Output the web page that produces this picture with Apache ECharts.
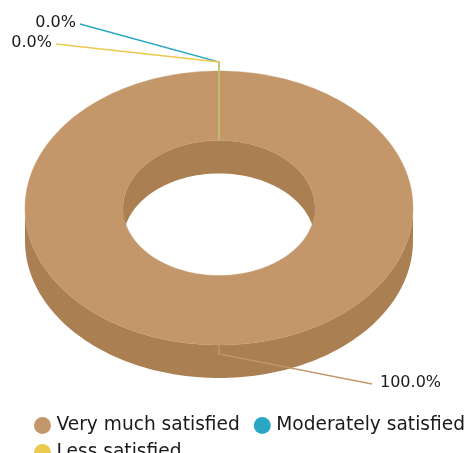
<!DOCTYPE html>
<html>
<head>
<meta charset="utf-8">
<script src="https://cdn.jsdelivr.net/npm/echarts@6/dist/echarts.min.js"></script>
<style>
html,body{margin:0;padding:0;background:#fff;}
#chart{width:471px;height:453px;}
</style>
</head>
<body>
<div id="chart"></div>
<script>
// ---- data ----
const categories = ['Very much satisfied', 'Moderately satisfied', 'Less satisfied'];
const values = [100, 0, 0];

// ---- styles / layout (kept separate from data) ----
const palette = ['#C39769', '#2AA7C4', '#EBCB4F'];
const sidePalette = ['#AA7F51', '#1E8BA5', '#CDAE37'];
const labelOffsets = [[153, 30], [-139, -38], [-163, -18]];
const G = { cx: 219, cy: 208, rx: 194, ry: 137, irx: 96, iry: 67.5, depth: 33 };
const FONT = 'DejaVu Sans';

const total = values.reduce((s, v) => s + v, 0);
const starts = [];
{ let acc = 0; values.forEach(v => { starts.push(acc); acc += v; }); }

const TAU = Math.PI * 2;
function pt(rx, ry, th, dy) {
  return [G.cx + rx * Math.sin(th), G.cy - ry * Math.cos(th) + (dy || 0)];
}
function arc(rx, ry, a, b, dy) {
  const n = Math.max(2, Math.ceil(Math.abs(b - a) / TAU * 240));
  const pts = [];
  for (let i = 0; i <= n; i++) pts.push(pt(rx, ry, a + (b - a) * i / n, dy));
  return pts;
}
function clip(a, b, lo, hi) {
  const res = [];
  for (const k of [-1, 0, 1]) {
    const l = Math.max(a, lo + k * TAU), h = Math.min(b, hi + k * TAU);
    if (h > l) res.push([l, h]);
  }
  return res;
}

function makeRender(i) {
  return function (params, api) {
    const v = api.value(0);
    const a = starts[i] / total * TAU;
    const b = (starts[i] + v) / total * TAU;
    const children = [];
    // inner (back) walls
    clip(a, b, -Math.PI / 2, Math.PI / 2).forEach(([l, h]) => {
      children.push({
        type: 'polygon', z2: 1,
        shape: { points: arc(G.irx, G.iry, l, h, 0).concat(arc(G.irx, G.iry, h, l, G.depth)) },
        style: { fill: sidePalette[i] }
      });
    });
    // outer (front) walls
    clip(a, b, Math.PI / 2, 3 * Math.PI / 2).forEach(([l, h]) => {
      children.push({
        type: 'polygon', z2: 2,
        shape: { points: arc(G.rx, G.ry, l, h, 0).concat(arc(G.rx, G.ry, h, l, G.depth)) },
        style: { fill: sidePalette[i] }
      });
    });
    // top face
    if (b > a) {
      children.push({
        type: 'polygon', z2: 3,
        shape: { points: arc(G.rx, G.ry, a, b, 0).concat(arc(G.irx, G.iry, b, a, 0)) },
        style: { fill: palette[i], stroke: palette[i], lineWidth: 0.4 }
      });
    } else {
      // zero-width slice: only its edge shows
      children.push({
        type: 'polyline', z2: 4,
        shape: { points: [pt(G.rx, G.ry, a, 0), pt(G.irx, G.iry, a, 0)] },
        style: { stroke: palette[i], lineWidth: 1.4, fill: null }
      });
    }
    // label + leader line
    const mid = (a + b) / 2;
    const anchor = pt(G.rx, G.ry, mid, 0);
    const elbow = [anchor[0] + 9 * Math.sin(mid), anchor[1] - 9 * Math.cos(mid)];
    const off = labelOffsets[i];
    const end = [elbow[0] + off[0], elbow[1] + off[1]];
    children.push({
      type: 'polyline', z2: 10,
      shape: { points: [anchor, elbow, end] },
      style: { stroke: palette[i], lineWidth: 1.4, fill: null }
    });
    const right = off[0] > 0;
    children.push({
      type: 'text', z2: 11,
      style: {
        text: (v / total * 100).toFixed(1) + '%',
        x: right ? end[0] + 8 : end[0] - 4,
        y: end[1] - 1,
        align: right ? 'left' : 'right',
        verticalAlign: 'middle',
        fill: '#1a1a1a',
        fontSize: 16,
        fontFamily: FONT
      }
    });
    return { type: 'group', children: children };
  };
}

const chart = echarts.init(document.getElementById('chart'), null, { renderer: 'canvas' });
chart.setOption({
  animation: false,
  color: palette,
  legend: {
    data: categories,
    icon: 'circle',
    left: 29,
    top: 411,
    width: 450,
    itemWidth: 18,
    itemHeight: 17,
    itemGap: 8,
    selectedMode: false,
    textStyle: { fontSize: 18.6, fontFamily: FONT, color: '#1a1a1a', lineHeight: 18, padding: [0, 6, 0, 0] }
  },
  series: categories.map((name, i) => ({
    type: 'custom',
    name: name,
    coordinateSystem: 'none',
    silent: true,
    itemStyle: { color: palette[i] },
    data: [[values[i]]],
    renderItem: makeRender(i)
  }))
});
</script>
</body>
</html>
